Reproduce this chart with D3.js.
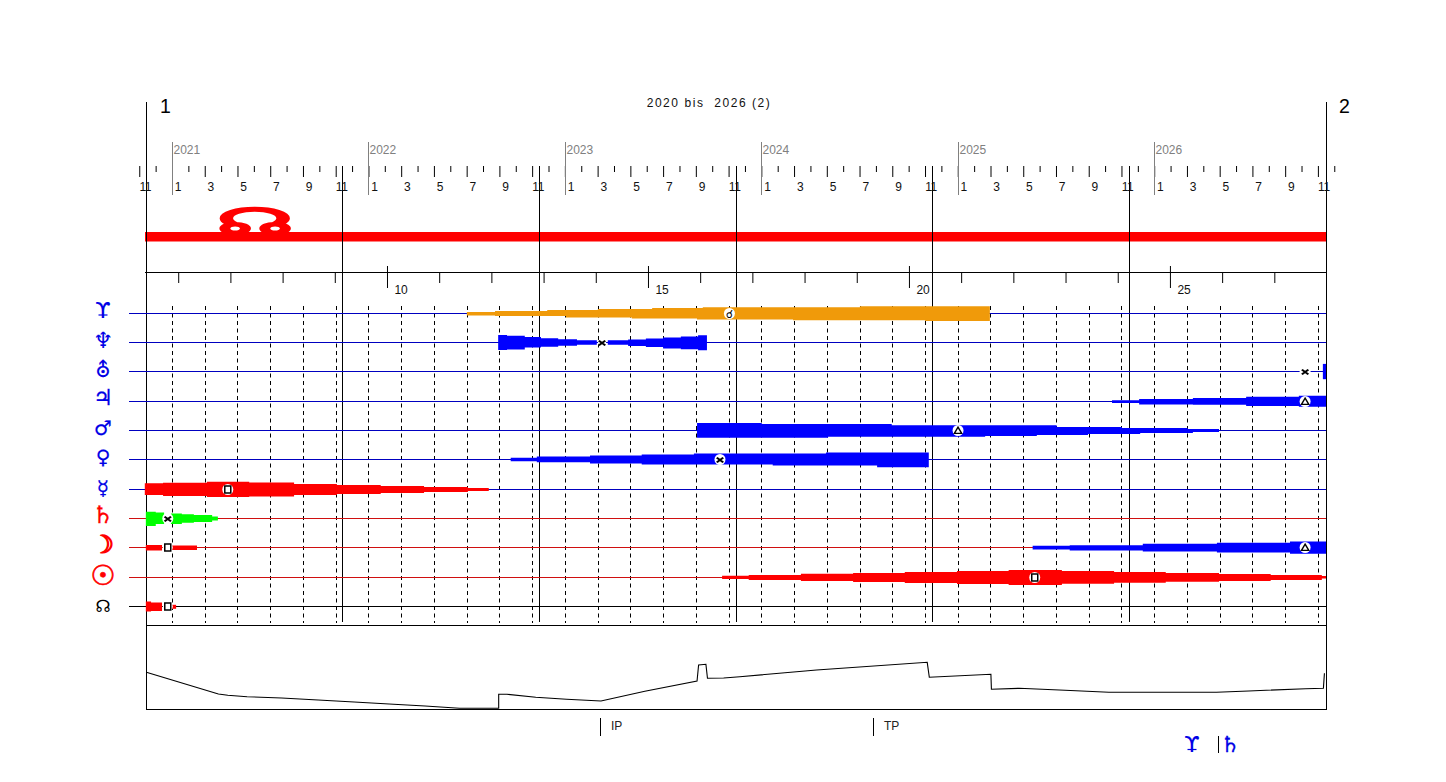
<!DOCTYPE html>
<html><head><meta charset="utf-8">
<script src="https://cdnjs.cloudflare.com/ajax/libs/d3/7.8.5/d3.min.js"></script>
<style>html,body{margin:0;padding:0;background:#fff}svg{display:block}text{font-family:"Liberation Sans",Arial,sans-serif}</style>
</head><body><svg id="c" width="1446" height="782"></svg>
<script>
// ---- categories / labels ----
const rowKeys = ["pluto","neptune","uranus","jupiter","mars","venus","mercury","saturn","moon","sun","node"];
const rowGlyphs = ["ϒ","♆","⛢","♃","♂","♀","☿","♄","☽","☉","☊"];
const rowGlyphColors = ["#0000e6","#0000e6","#0000e6","#0000e6","#0000e6","#0000e6","#0000e6","#ff0000","#ff0000","#ff0000","#000000"];
const rowGlyphSizes = [22,22,21,22,20,20,20,24,25,28,17];
const rowGlyphShift = [5,5,5.5,4,4.5,4.5,6,5,5.5,7.5,5.5];
const rowGlyphStroke = [0.1,0.1,0.1,0.3,0.2,0.2,0.2,0.3,1.2,0.7,0];
const rowLineColors = ["#0000c0","#0000c0","#0000c0","#0000c0","#0000c0","#0000c0","#0000c0","#d01010","#d01010","#d01010","#000000"];
const yearLabels = [2021,2022,2023,2024,2025,2026];
const cycleMonths = [10.41,22.44,34.45,46.44,58.44];
const ageLabels = [10,15,20,25];
const ageTicks = [6,7,8,9,11,12,13,14,16,17,18,19,21,22,23,24,26,27];
const title = "2020 bis  2026 (2)";

// ---- bars: [age, thickness above line, thickness below line]; last entry only closes the bar ----
const plutoOrange = [[11.53,1.5,2],[12.07,2.5,2.5],[13.07,3.5,2.5],[13.43,3.5,4],[14.04,4.5,4],[14.69,4.5,5],[15.08,5.5,5],[15.94,5.5,6],[16.05,6.3,6],[17.78,6.3,6.7],[19.06,7.3,6.7],[20.31,7.3,7.5],[21.55,0,0]];
const neptuneA = [[12.13,7.5,7.5],[12.30,6.8,7],[12.64,5.4,5],[12.95,4.3,4.2],[13.28,3.3,3.2],[13.64,2.3,2.3],[14.02,0,0]];
const neptuneB = [[14.23,2.2,2.3],[14.62,3,3.5],[14.96,4,4.5],[15.29,5,6],[15.63,6,6.7],[15.96,7.3,7.7],[16.13,0,0]];
const uranusBar = [[27.93,7.6,7.7],[27.99,0,0]];
const jupiterBar = [[23.89,1.3,1.5],[24.41,2.5,3],[25.44,3.5,3.3],[26.46,4.7,4.5],[27.47,5.7,5.3],[27.99,0,0]];
const marsBar = [[15.94,7.5,7.2],[17.18,6.5,7.2],[18.45,6.5,6.2],[19.67,5.2,6.2],[21.46,5.2,5.5],[22.45,5.2,4.5],[22.83,3.5,4.5],[23.43,3.5,3.5],[24.08,2.5,3.5],[24.43,2.5,2.5],[25.34,1.5,2.5],[25.44,1.5,1.5],[25.94,0,0]];
const venusBar = [[12.37,1.7,1.7],[12.87,3,2.7],[13.89,4,4],[14.88,5,5],[15.88,6,5],[17.39,6,6],[18.41,7,6],[19.39,7,7.7],[20.38,0,0]];
const mercuryBar = [[5.36,6.2,5.5],[5.71,6.8,6.5],[6.55,7.8,7.5],[7.36,7,7],[8.22,5.5,5.5],[9.04,4.5,4.5],[9.88,3.5,3.5],[10.71,2.5,2.5],[11.55,1.5,1.5],[11.95,0,0]];
const saturnA = [[5.38,6.8,7.5],[5.57,6,5.5],[5.73,0,0]];
const saturnB = [[5.86,5,5.5],[6.07,4.2,4.2],[6.30,3.5,3.5],[6.65,2,2],[6.76,0,0]];
const moonA = [[5.38,2.5,3],[5.69,0,0]];
const moonB = [[5.88,2,2.5],[6.36,0,0]];
const moonBlue = [[22.37,1.7,2],[23.08,2.3,3],[24.48,3.7,4],[25.90,4.7,5],[27.30,6,6.3],[27.99,0,0]];
const sunBar = [[16.42,1.8,1.5],[16.93,2.5,2.5],[17.93,3.8,3.5],[18.93,4.5,4.5],[19.92,5.5,5.5],[20.92,6.5,6.5],[21.91,7.5,7.5],[22.93,6.5,6.2],[23.93,5.5,5.2],[24.92,4.5,4.2],[25.94,3.5,3.5],[26.93,2.5,2.5],[27.91,1.5,1],[27.99,0,0]];
const nodeA = [[5.38,5,5],[5.48,4,4.5],[5.69,0,0]];
const nodeB = [[5.88,1.7,2.3],[5.96,0,0]];
const bars = [
 ["pluto",plutoOrange,"#f09a0a"],["neptune",neptuneA,"#0000ff"],["neptune",neptuneB,"#0000ff"],
 ["uranus",uranusBar,"#0000ff"],["jupiter",jupiterBar,"#0000ff"],["mars",marsBar,"#0000ff"],
 ["venus",venusBar,"#0000ff"],["mercury",mercuryBar,"#ff0000"],["saturn",saturnA,"#00ff00"],
 ["saturn",saturnB,"#00ff00"],["moon",moonA,"#ff0000"],["moon",moonB,"#ff0000"],
 ["moon",moonBlue,"#0000ff"],["sun",sunBar,"#ff0000"],["node",nodeA,"#ff0000"],["node",nodeB,"#ff0000"]
];
// ---- aspect markers ----
const markers = [
 ["pluto",16.56,"conj"],["neptune",14.12,"sext",0],["uranus",27.59,"sext"],["jupiter",27.59,"tri"],
 ["mars",20.94,"tri"],["venus",16.38,"sext"],["mercury",6.95,"sq"],["saturn",5.80,"sext"],
 ["moon",5.80,"sq"],["moon",27.59,"tri"],["sun",22.41,"sq"],["node",5.80,"sq"]
];
// ---- lower curve ----
const curveAges = [5.39,6.77,6.95,7.32,7.98,8.68,9.37,10.04,10.73,11.39,12.14,12.14,12.30,12.85,13.44,14.10,14.94,15.94,15.97,16.11,16.14,16.45,16.76,18.23,20.35,20.39,21.57,21.58,22.11,22.99,23.83,25.89,26.51,27.60,27.94,27.96];
const curveValues = [36.7,15,13.7,12.3,11,9,7,5,3,0.7,0.7,14.7,14.7,11.7,9.7,8,17.7,28,44,44.7,30.7,31,32.3,39,46.7,31.7,34.7,19.7,20.7,18.7,16.7,16.7,18,20.3,20.7,35.7];
const turningPoints = [["IP",14.08],["TP",19.31]];

// ---- scales ----
const svg = d3.select("#c");
const xAge = d3.scaleLinear().domain([5.383,27.99]).range([146,1326]);
const xMonth = d3.scaleLinear().domain([-2,71]).range([139.26,1334.27]);
const yRow = d3.scalePoint().domain(rowKeys).range([313.3,606.3]);
const rowY = k => Math.floor(yRow(k))+0.5;
const yCurve = d3.scaleLinear().domain([0,84]).range([709,625]);
const thick = d3.scaleLinear().domain([0,1]).range([0,1]);
const L=146,R=1326;

// red band with big node glyph
svg.append("text").text("☊").attr("font-weight","bold")
  .attr("fill","#ff0000").attr("stroke","#ff0000").attr("stroke-width",2.2).attr("font-size",36).attr("text-anchor","middle")
  .attr("transform","translate(255,234) scale(2.4,1)").style("font-family","DejaVu Sans");
svg.append("rect").attr("x",L-1).attr("y",232).attr("width",R-L+1).attr("height",9.5).attr("fill","#ff0000");

// frame
const line=(x1,y1,x2,y2,c="#000",w=1)=>svg.append("line").attr("x1",x1).attr("y1",y1).attr("x2",x2).attr("y2",y2).attr("stroke",c).attr("stroke-width",w);
line(L+.5,102,L+.5,709.5); line(R+.5,102,R+.5,709.5);
line(L-1,272.5,R+1,272.5); line(L,625.5,R+1,625.5); line(L,709.5,R+1,709.5);

svg.append("text").text("1").attr("x",160).attr("y",113).attr("font-size",19.5).attr("fill","#000");
svg.append("text").text("2").attr("x",1339).attr("y",113).attr("font-size",19.5).attr("fill","#000");
svg.append("text").text(title).attr("x",709).attr("y",107).attr("font-size",12).attr("text-anchor","middle")
  .attr("letter-spacing",1.55).style("white-space","pre").attr("fill","#111");

// month ruler
const monthAll = d3.range(-2,72);
const monthNum = t => ((t%12)+12)%12+1;
const longM = monthAll.filter(t=>monthNum(t)%2===1);
const shortM = monthAll.filter(t=>monthNum(t)%2===0);
function clean(g){g.select(".domain").remove();g.selectAll("line").attr("stroke","#000").attr("stroke-width",1);}
svg.append("g").attr("transform","translate(0,166)")
  .call(d3.axisBottom(xMonth).tickValues(shortM).tickSize(6).tickFormat(""))
  .call(clean);
svg.append("g").attr("transform","translate(0,166)")
  .call(d3.axisBottom(xMonth).tickValues(longM).tickSize(11).tickFormat(t=>monthNum(t)))
  .call(clean)
  .call(g=>g.selectAll("text").attr("font-size",12).attr("font-family",null).attr("fill","#111")
     .attr("x",5.5).attr("dy",0).attr("y",24.5).attr("letter-spacing",-0.4));

// year markers
const yearG = svg.selectAll("g.year").data(yearLabels).join("g").attr("class","year")
  .attr("transform",y=>`translate(${Math.round(xMonth((y-2021)*12))+.5},0)`);
yearG.append("line").attr("y1",142).attr("y2",195).attr("stroke","#808080");
yearG.append("text").text(y=>y).attr("x",1).attr("y",154).attr("font-size",12).attr("fill","#808080");

// age axis
svg.append("g").attr("transform","translate(0,272)")
  .call(d3.axisBottom(xAge).tickValues(ageTicks).tickSize(11).tickFormat(""))
  .call(clean);
svg.append("g").attr("transform","translate(0,272)")
  .call(d3.axisBottom(xAge).tickValues(ageLabels).tickSize(16).tickFormat(d3.format("d")))
  .call(clean)
  .call(g=>g.selectAll("line").attr("y1",-6))
  .call(g=>g.selectAll("text").attr("font-size",12).attr("font-family",null).attr("fill","#111")
    .attr("text-anchor","start").attr("x",7).attr("y",21.5).attr("dy",0).attr("letter-spacing",-0.2));

// dashed grid + cycle lines
svg.selectAll("line.dash").data(longM.filter(t=>t>=0&&t<=70)).join("line").attr("class","dash")
  .attr("x1",t=>Math.round(xMonth(t))+.5).attr("x2",t=>Math.round(xMonth(t))+.5)
  .attr("y1",306).attr("y2",623).attr("stroke","#000").attr("stroke-dasharray","4 3.5");
svg.selectAll("line.cycle").data(cycleMonths).join("line").attr("class","cycle")
  .attr("x1",t=>Math.round(xMonth(t))+.5).attr("x2",t=>Math.round(xMonth(t))+.5)
  .attr("y1",166).attr("y2",622).attr("stroke","#000");

// row lines
svg.selectAll("line.row").data(rowKeys).join("line").attr("class","row")
  .attr("x1",129).attr("x2",R).attr("y1",rowY).attr("y2",rowY)
  .attr("stroke",(d,i)=>rowLineColors[i]).attr("stroke-width",1);

// row glyphs
svg.selectAll("text.glyph").data(rowKeys).join("text").attr("class","glyph")
  .text((d,i)=>rowGlyphs[i]).attr("x",103).attr("y",(d,i)=>yRow(d)+rowGlyphShift[i])
  .attr("text-anchor","middle").attr("font-size",(d,i)=>rowGlyphSizes[i])
  .style("font-family","DejaVu Sans").attr("fill",(d,i)=>rowGlyphColors[i])
  .attr("stroke",(d,i)=>rowGlyphColors[i]).attr("stroke-width",(d,i)=>rowGlyphStroke[i]);
line(98.5,315,107.5,315,"#0000e6",1.2);

// bars
bars.forEach(([k,steps,color])=>{
  const y0=rowY(k);
  const a=d3.area().curve(d3.curveStepAfter).x(d=>xAge(d[0]))
     .y0(d=>y0+thick(d[2])).y1(d=>y0-thick(d[1]));
  const filled = steps.map((d,i)=> i===steps.length-1 ? [d[0],steps[i-1][1],steps[i-1][2]] : d);
  svg.append("path").attr("d",a(filled)).attr("fill",color);
});

// markers
markers.forEach(([k,age,type,disc])=>{
  const g=svg.append("g").attr("transform",`translate(${xAge(age)},${rowY(k)})`);
  if(disc!==0) g.append("circle").attr("r",type==="sq"&&(k==="moon"||k==="node")?5:5.5).attr("fill","#fff");
  else g.append("circle").attr("r",4).attr("fill","#fff");
  if(type==="sq") g.append("rect").attr("x",-3).attr("y",-3.5).attr("width",6).attr("height",7).attr("fill","#fff").attr("stroke","#000").attr("stroke-width",1.5);
  if(type==="tri") g.append("path").attr("d",d3.symbol(d3.symbolTriangle2,38)()).attr("transform","translate(0,0.8)").attr("fill","none").attr("stroke","#000").attr("stroke-width",1.4);
  if(type==="sext") g.append("path").attr("d",d3.symbol(d3.symbolTimes,24)()).attr("transform","translate(0,0.5) scale(1.1,.8)").attr("fill","none").attr("stroke","#000").attr("stroke-width",2);
  if(type==="conj") g.append("text").text("☌").attr("text-anchor","middle").attr("y",4).attr("font-size",11).attr("font-weight","bold").style("font-family","DejaVu Sans").attr("fill","#000");
});

// lower curve
const curvePts = curveAges.map((a,i)=>[a,curveValues[i]]);
svg.append("path").attr("d",d3.line().x(d=>xAge(d[0])).y(d=>yCurve(d[1]))(curvePts))
  .attr("fill","none").attr("stroke","#000").attr("stroke-width",1.1);
// IP / TP
turningPoints.forEach(([t,a])=>{
  const x=Math.round(xAge(a))+.5;
  line(x,718,x,736,"#000");
  svg.append("text").text(t).attr("x",x+10.5).attr("y",730).attr("font-size",12).attr("fill","#222");
});
// bottom-right legend
svg.append("text").text("ϒ").attr("x",1192).attr("y",752).attr("text-anchor","middle").attr("font-size",22)
  .style("font-family","DejaVu Sans").attr("fill","#0000e6").attr("stroke","#0000e6").attr("stroke-width",0.1);
line(1187.5,749.5,1196.5,749.5,"#0000e6",1.2);
line(1218.5,736,1218.5,753,"#000");
svg.append("text").text("♄").attr("x",1230).attr("y",752).attr("text-anchor","middle").attr("font-size",22)
  .style("font-family","DejaVu Sans").attr("fill","#0000e6").attr("stroke","#0000e6").attr("stroke-width",0.3);
</script></body></html>
